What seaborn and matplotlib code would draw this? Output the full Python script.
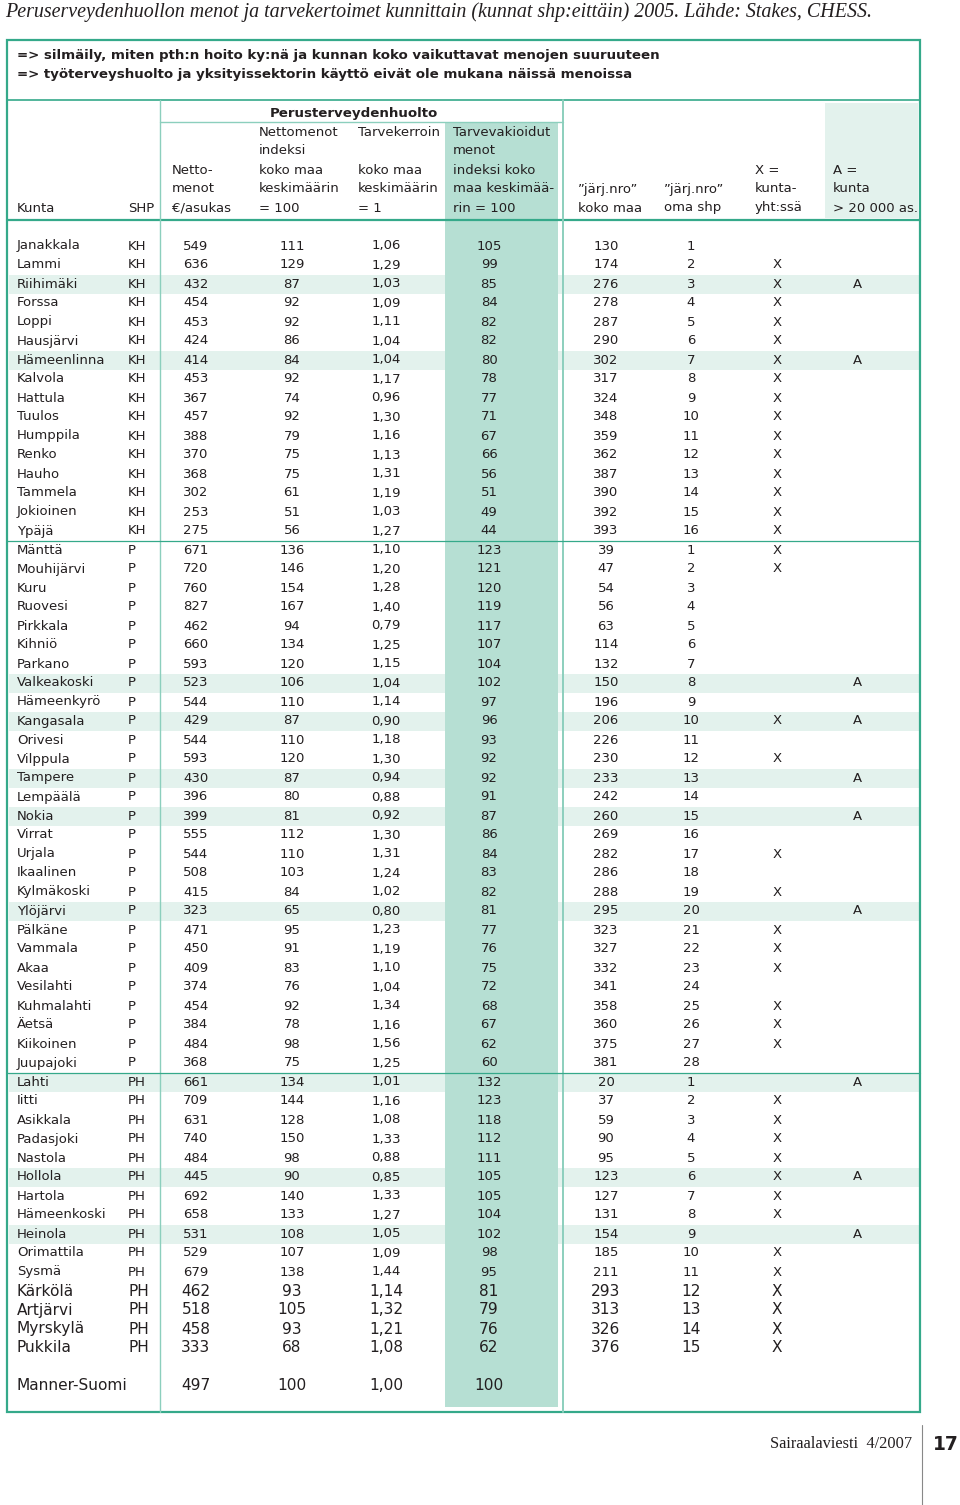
import numpy as np
import pandas as pd
import seaborn as sns
from matplotlib import pyplot as plt
from matplotlib.patches import Rectangle

kunta = ['Janakkala', 'Lammi', 'Riihimäki', 'Forssa', 'Loppi', 'Hausjärvi', 'Hämeenlinna',
         'Kalvola', 'Hattula', 'Tuulos', 'Humppila', 'Renko', 'Hauho', 'Tammela', 'Jokioinen',
         'Ypäjä',
         'Mänttä', 'Mouhijärvi', 'Kuru', 'Ruovesi', 'Pirkkala', 'Kihniö', 'Parkano',
         'Valkeakoski', 'Hämeenkyrö', 'Kangasala', 'Orivesi', 'Vilppula', 'Tampere',
         'Lempäälä', 'Nokia', 'Virrat', 'Urjala', 'Ikaalinen', 'Kylmäkoski', 'Ylöjärvi',
         'Pälkäne', 'Vammala', 'Akaa', 'Vesilahti', 'Kuhmalahti', 'Äetsä', 'Kiikoinen',
         'Juupajoki',
         'Lahti', 'Iitti', 'Asikkala', 'Padasjoki', 'Nastola', 'Hollola', 'Hartola',
         'Hämeenkoski', 'Heinola', 'Orimattila', 'Sysmä', 'Kärkölä', 'Artjärvi',
         'Myrskylä', 'Pukkila']
shp = ['KH'] * 16 + ['P'] * 28 + ['PH'] * 15
netto = [549, 636, 432, 454, 453, 424, 414, 453, 367, 457, 388, 370, 368, 302, 253, 275,
         671, 720, 760, 827, 462, 660, 593, 523, 544, 429, 544, 593, 430, 396, 399, 555,
         544, 508, 415, 323, 471, 450, 409, 374, 454, 384, 484, 368,
         661, 709, 631, 740, 484, 445, 692, 658, 531, 529, 679, 462, 518, 458, 333]
indeksi = [111, 129, 87, 92, 92, 86, 84, 92, 74, 92, 79, 75, 75, 61, 51, 56,
           136, 146, 154, 167, 94, 134, 120, 106, 110, 87, 110, 120, 87, 80, 81, 112,
           110, 103, 84, 65, 95, 91, 83, 76, 92, 78, 98, 75,
           134, 144, 128, 150, 98, 90, 140, 133, 108, 107, 138, 93, 105, 93, 68]
tarvekerroin = [1.06, 1.29, 1.03, 1.09, 1.11, 1.04, 1.04, 1.17, 0.96, 1.30, 1.16, 1.13,
                1.31, 1.19, 1.03, 1.27,
                1.10, 1.20, 1.28, 1.40, 0.79, 1.25, 1.15, 1.04, 1.14, 0.90, 1.18, 1.30,
                0.94, 0.88, 0.92, 1.30, 1.31, 1.24, 1.02, 0.80, 1.23, 1.19, 1.10, 1.04,
                1.34, 1.16, 1.56, 1.25,
                1.01, 1.16, 1.08, 1.33, 0.88, 0.85, 1.33, 1.27, 1.05, 1.09, 1.44, 1.14,
                1.32, 1.21, 1.08]
vakioidut = [105, 99, 85, 84, 82, 82, 80, 78, 77, 71, 67, 66, 56, 51, 49, 44,
             123, 121, 120, 119, 117, 107, 104, 102, 97, 96, 93, 92, 92, 91, 87, 86,
             84, 83, 82, 81, 77, 76, 75, 72, 68, 67, 62, 60,
             132, 123, 118, 112, 111, 105, 105, 104, 102, 98, 95, 81, 79, 76, 62]
jarj_maa = [130, 174, 276, 278, 287, 290, 302, 317, 324, 348, 359, 362, 387, 390, 392, 393,
            39, 47, 54, 56, 63, 114, 132, 150, 196, 206, 226, 230, 233, 242, 260, 269,
            282, 286, 288, 295, 323, 327, 332, 341, 358, 360, 375, 381,
            20, 37, 59, 90, 95, 123, 127, 131, 154, 185, 211, 293, 313, 326, 376]
jarj_shp = list(range(1, 17)) + list(range(1, 29)) + list(range(1, 16))
kuntayht = ['', 'X', 'X', 'X', 'X', 'X', 'X', 'X', 'X', 'X', 'X', 'X', 'X', 'X', 'X', 'X',
            'X', 'X', '', '', '', '', '', '', '', 'X', '', 'X', '', '', '', '',
            'X', '', 'X', '', 'X', 'X', 'X', '', 'X', 'X', 'X', '',
            '', 'X', 'X', 'X', 'X', 'X', 'X', 'X', '', 'X', 'X', 'X', 'X', 'X', 'X']
iso_kunta = ['', '', 'A', '', '', '', 'A', '', '', '', '', '', '', '', '', '',
             '', '', '', '', '', '', '', 'A', '', 'A', '', '', 'A', '', 'A', '',
             '', '', '', 'A', '', '', '', '', '', '', '', '',
             'A', '', '', '', '', 'A', '', '', 'A', '', '', '', '', '', '']
koko_maa = ['Manner-Suomi', 497, 100, 1.00, 100]

title = 'Peruserveydenhuollon menot ja tarvekertoimet kunnittain (kunnat shp:eittäin) 2005. Lähde: Stakes, CHESS.'
notes = ['=> silmäily, miten pth:n hoito ky:nä ja kunnan koko vaikuttavat menojen suuruuteen',
         '=> työterveyshuolto ja yksityissektorin käyttö eivät ole mukana näissä menoissa']
headers = [['Kunta'], ['SHP'], ['', '', 'Netto-', 'menot', '€/asukas'],
           ['Nettomenot', 'indeksi', 'koko maa', 'keskimäärin', '= 100'],
           ['Tarvekerroin', '', 'koko maa', 'keskimäärin', '= 1'],
           ['Tarvevakioidut', 'menot', 'indeksi koko', 'maa keskimää-', 'rin = 100'],
           ['', '', '', '”järj.nro”', 'koko maa'],
           ['', '', '', '”järj.nro”', 'oma shp'],
           ['', '', 'X =', 'kunta-', 'yht:ssä'],
           ['', '', 'A =', 'kunta', '> 20 000 as.']]

df = pd.DataFrame({'kunta': kunta, 'shp': shp, 'netto': netto, 'indeksi': indeksi,
                   'tarve': tarvekerroin, 'vakio': vakioidut, 'maa': jarj_maa,
                   'oma': jarj_shp, 'x': kuntayht, 'a': iso_kunta})

sns.set_theme(style='white')
plt.rcParams['font.family'] = ['DejaVu Sans']

TXT = '#231f20'
TEAL = '#35a98a'
LTEAL = '#8ccfbd'
SHADE = '#b6dfd3'
STRIPE = '#e3f2ed'

fig = plt.figure(figsize=(9.6, 15.05), dpi=100)
ax = fig.add_axes([0, 0, 1, 1])
ax.set_xlim(0, 960)
ax.set_ylim(1505, 0)
ax.axis('off')

row0, dy = 246, 19
fs = 9.5

# stripes for big towns
for i, a in enumerate(df['a']):
    if a:
        ax.add_patch(Rectangle((9, row0 + i * dy - 9.5), 910, 19, color=STRIPE, lw=0, zorder=0))
# shaded column and header cell
ax.add_patch(Rectangle((445, 123), 113, 1407 - 123, color=SHADE, lw=0, zorder=0.5))
ax.add_patch(Rectangle((825, 103), 93, 115, color=STRIPE, lw=0, zorder=0.5))

# frame and rules
ax.add_patch(Rectangle((7, 40), 913, 1372, fill=False, ec=TEAL, lw=1.6, zorder=3))
ax.plot([7, 920], [100, 100], color=TEAL, lw=1.2, zorder=3)
ax.plot([7, 920], [220, 220], color=TEAL, lw=1.6, zorder=3)
ax.plot([160, 160], [100, 1412], color=LTEAL, lw=1.0, zorder=3)
ax.plot([563, 563], [100, 1412], color=LTEAL, lw=1.4, zorder=3)
ax.plot([160, 563], [122, 122], color=LTEAL, lw=1.0, zorder=3)
for yy in [row0 + 15.5 * dy, row0 + 43.5 * dy]:
    ax.plot([7, 920], [yy, yy], color=TEAL, lw=0.9, zorder=3)

# title and notes
ax.text(5, 12, title, fontsize=14.4, style='italic', family=['Liberation Serif'],
        color=TXT, va='center', ha='left')
for k, n in enumerate(notes):
    ax.text(17, 56 + k * 18.5, n, fontsize=9.6, fontweight='bold', color=TXT, va='center')

# header
ax.text(354, 113, 'Perusterveydenhuolto', fontsize=9.6, fontweight='bold', color=TXT,
        ha='center', va='center')
head_x = [17, 128, 172, 259, 358, 453, 578, 664, 755, 833]
line_y = [132, 151, 170, 189, 208]
for hx, lines in zip(head_x, headers):
    ys = line_y[-len(lines):]
    for hy, t in zip(ys, lines):
        if t:
            ax.text(hx, hy, t, fontsize=fs, color=TXT, ha='left', va='center')

# body
num_x = [196, 292, 386, 489, 606, 691, 777, 857]
for i, r in df.iterrows():
    y = row0 + i * dy
    f = 11.1 if i >= 55 else fs
    ax.text(17, y, r['kunta'], fontsize=f, color=TXT, va='center')
    ax.text(128, y, r['shp'], fontsize=f, color=TXT, va='center')
    vals = [r['netto'], r['indeksi'], f"{r['tarve']:.2f}".replace('.', ','), r['vakio'],
            r['maa'], r['oma'], r['x'], r['a']]
    for vx, v in zip(num_x, vals):
        ax.text(vx, y, str(v), fontsize=f, color=TXT, ha='center', va='center')

# whole country
yk = 1386
ax.text(17, yk, koko_maa[0], fontsize=11.1, color=TXT, va='center')
tot = [koko_maa[1], koko_maa[2], f'{koko_maa[3]:.2f}'.replace('.', ','), koko_maa[4]]
for vx, v in zip(num_x[:4], tot):
    ax.text(vx, yk, str(v), fontsize=11.1, color=TXT, ha='center', va='center')

# footer
ax.text(912, 1444, 'Sairaalaviesti  4/2007', fontsize=11.8, family=['Liberation Serif'],
        color=TXT, ha='right', va='center')
ax.plot([922, 922], [1425, 1505], color='#888888', lw=0.8)
ax.text(946, 1444, '17', fontsize=13.5, fontweight='bold', color=TXT, ha='center', va='center')

fig.savefig('out.png', dpi=100)
